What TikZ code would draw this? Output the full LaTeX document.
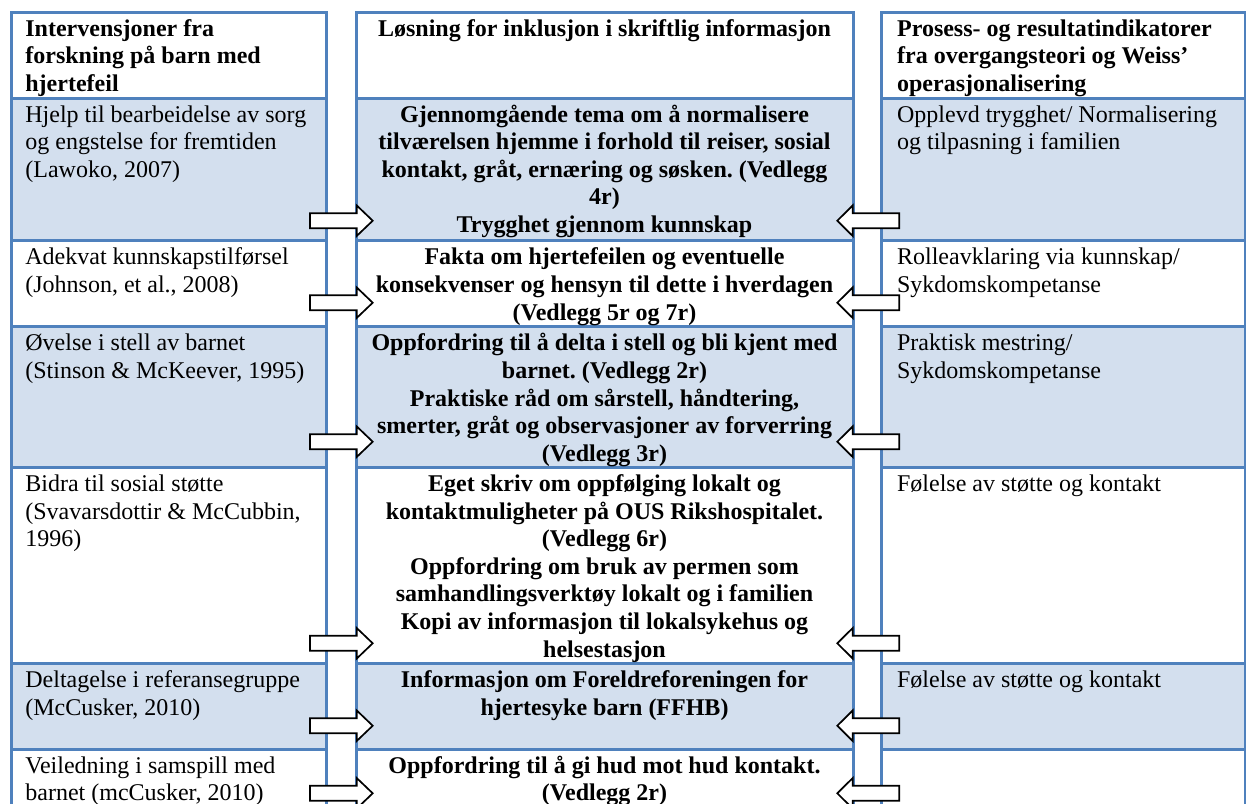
\documentclass[tikz,border=0pt]{standalone}
\usepackage{fontspec}
\setmainfont{Liberation Serif}
\frenchspacing
\definecolor{gridblue}{HTML}{4F81BD}
\definecolor{bandfill}{HTML}{D3DFEE}
\begin{document}
\begin{tikzpicture}[x=0.5pt,y=-0.5pt,
  gridline/.style={draw=gridblue,line width=1.5pt,line join=miter,line cap=rect},
  arrowline/.style={draw=black,fill=white,line width=0.85pt,line join=miter},
  celltext/.style={inner sep=0pt,font=\fontsize{12}{13.8}\selectfont},
  lefttext/.style={celltext,anchor=north west,align=left},
  boldleft/.style={lefttext,font=\fontsize{12}{13.8}\selectfont\bfseries},
  midtext/.style={celltext,anchor=north,align=center,font=\fontsize{12}{13.8}\selectfont\bfseries},
  rarrow/.pic={\draw[arrowline] (0,-7.5) -- (46.7,-7.5) -- (46.7,-15.3) -- (62.7,0)
      -- (46.7,15.3) -- (46.7,7.5) -- (0,7.5) -- cycle;},
  larrow/.pic={\draw[arrowline] (0,-7.5) -- (-46.6,-7.5) -- (-46.6,-15.3) -- (-62,0)
      -- (-46.6,15.3) -- (-46.6,7.5) -- (0,7.5) -- cycle;}
]
\useasboundingbox (0,0) rectangle (1246,803);
\clip (0,0) rectangle (1246,803);

% three separate tables: shaded bands, then the blue grid
\foreach \xa/\xb in {11.5/326, 356/853, 881.5/1245}{
  \fill[bandfill] (\xa,98) rectangle (\xb,240.7);
  \fill[bandfill] (\xa,326.7) rectangle (\xb,467.3);
  \fill[bandfill] (\xa,663.3) rectangle (\xb,749);
  \draw[gridline] (\xa,840) -- (\xa,12) -- (\xb,12) -- (\xb,840);
  \foreach \yy in {98,240.7,326.7,467.3,663.3,749}
    \draw[gridline] (\xa,\yy) -- (\xb,\yy);
}

% header row
\node[boldleft] (hl) at (25,16.4) {\strut Intervensjoner fra\\\strut forskning på barn med\\\strut hjertefeil};
\node[midtext] (hc) at (604.5,16.4) {\strut Løsning for inklusjon i skriftlig informasjon};
\node[boldleft] (hr) at (896.7,16.4) {\strut Prosess- og resultatindikatorer\\\strut fra overgangsteori og Weiss’\\\strut operasjonalisering};

% row 1
\node[lefttext] (l1) at (25,102.4) {\strut Hjelp til bearbeidelse av sorg\\\strut og engstelse for fremtiden\\\strut (Lawoko, 2007)};
\node[midtext] (c1) at (604.5,102.4) {\strut Gjennomgående tema om å normalisere\\\strut tilværelsen hjemme i forhold til reiser, sosial\\\strut kontakt, gråt, ernæring og søsken. (Vedlegg\\\strut 4r)\\\strut Trygghet gjennom kunnskap};
\node[lefttext] (r1) at (896.7,102.4) {\strut Opplevd trygghet/ Normalisering\\\strut og tilpasning i familien};

% row 2
\node[lefttext] (l2) at (25,245.1) {\strut Adekvat kunnskapstilførsel\\\strut (Johnson, et al., 2008)};
\node[midtext] (c2) at (604.5,245.1) {\strut Fakta om hjertefeilen og eventuelle\\\strut konsekvenser og hensyn til dette i hverdagen\\\strut (Vedlegg 5r og 7r)};
\node[lefttext] (r2) at (896.7,245.1) {\strut Rolleavklaring via kunnskap/\\\strut Sykdomskompetanse};

% row 3
\node[lefttext] (l3) at (25,331.1) {\strut Øvelse i stell av barnet\\\strut (Stinson \& McKeever, 1995)};
\node[midtext] (c3) at (604.5,331.1) {\strut Oppfordring til å delta i stell og bli kjent med\\\strut barnet. (Vedlegg 2r)\\\strut Praktiske råd om sårstell, håndtering,\\\strut smerter, gråt og observasjoner av forverring\\\strut (Vedlegg 3r)};
\node[lefttext] (r3) at (896.7,331.1) {\strut Praktisk mestring/\\\strut Sykdomskompetanse};

% row 4
\node[lefttext] (l4) at (25,471.7) {\strut Bidra til sosial støtte\\\strut (Svavarsdottir \& McCubbin,\\\strut 1996)};
\node[midtext] (c4) at (604.5,471.7) {\strut Eget skriv om oppfølging lokalt og\\\strut kontaktmuligheter på OUS Rikshospitalet.\\\strut (Vedlegg 6r)\\\strut Oppfordring om bruk av permen som\\\strut samhandlingsverktøy lokalt og i familien\\\strut Kopi av informasjon til lokalsykehus og\\\strut helsestasjon};
\node[lefttext] (r4) at (896.7,471.7) {\strut Følelse av støtte og kontakt};

% row 5
\node[lefttext] (l5) at (25,667.7) {\strut Deltagelse i referansegruppe\\\strut (McCusker, 2010)};
\node[midtext] (c5) at (604.5,667.7) {\strut Informasjon om Foreldreforeningen for\\\strut hjertesyke barn (FFHB)};
\node[lefttext] (r5) at (896.7,667.7) {\strut Følelse av støtte og kontakt};

% row 6
\node[lefttext] (l6) at (25,753.4) {\strut Veiledning i samspill med\\\strut barnet (mcCusker, 2010)};
\node[midtext] (c6) at (604.5,753.4) {\strut Oppfordring til å gi hud mot hud kontakt.\\\strut (Vedlegg 2r)};

% block arrows into the middle column
\foreach \n/\yy in {1/220.7,2/302.7,3/441.7,4/643.3,5/725.7,6/793.3}{
  \coordinate (in\n) at (310,\yy);
  \coordinate (out\n) at (899.3,\yy);
  \pic at (in\n) {rarrow};
  \pic at (out\n) {larrow};
}
\end{tikzpicture}
\end{document}
